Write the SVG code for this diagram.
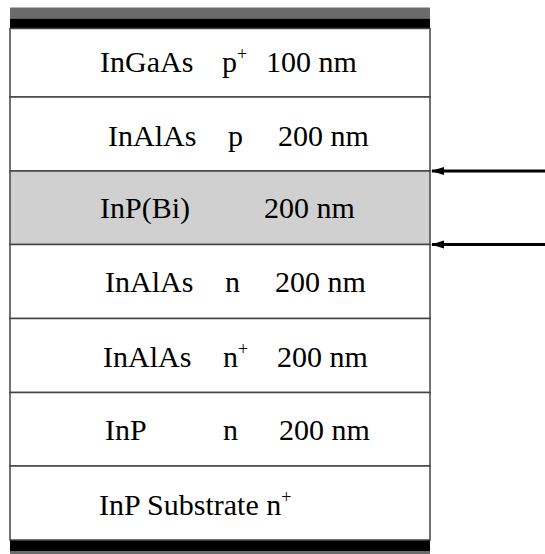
<svg xmlns="http://www.w3.org/2000/svg" width="545" height="554" viewBox="0 0 545 554">
<defs>
<style>
text{font-family:'Liberation Serif','Times New Roman','DejaVu Serif',serif;font-size:30px;fill:#000}
.s{font-size:18px}
.layer{stroke:#444;stroke-width:1.5}
</style>
<marker id="ah" markerWidth="13" markerHeight="10" refX="12" refY="5" orient="auto" markerUnits="userSpaceOnUse">
<path d="M0,1 L13,5 L0,9 Z" fill="#000"/>
</marker>
</defs>
<rect x="0" y="0" width="545" height="554" fill="#fff"/>
<rect x="10" y="7.5" width="420" height="11" fill="#6b6b6b"/>
<rect x="10" y="18.5" width="420" height="10" fill="#000"/>
<rect x="10" y="540" width="420" height="11" fill="#000"/>
<rect x="10" y="551" width="420" height="3" fill="#6b6b6b"/>
<g id="layer1"><rect class="layer" x="10" y="28.5" width="420" height="68.5" fill="#fff"/>
<text x="100" y="72">InGaAs</text><text x="222" y="72">p<tspan class="s" dy="-12">+</tspan></text><text x="266" y="72">100 nm</text></g>
<g id="layer2"><rect class="layer" x="10" y="97" width="420" height="74" fill="#fff"/>
<text x="108" y="146">InAlAs</text><text x="228" y="146">p</text><text x="278" y="146">200 nm</text></g>
<g id="layer3"><rect class="layer" x="10" y="171" width="420" height="73.5" fill="#d0d0d0"/>
<text x="100" y="218">InP(Bi)</text><text x="264" y="218">200 nm</text></g>
<g id="layer4"><rect class="layer" x="10" y="244.5" width="420" height="74" fill="#fff"/>
<text x="105" y="292">InAlAs</text><text x="225" y="292">n</text><text x="275" y="292">200 nm</text></g>
<g id="layer5"><rect class="layer" x="10" y="318.5" width="420" height="74" fill="#fff"/>
<text x="103" y="367">InAlAs</text><text x="223" y="367">n<tspan class="s" dy="-12">+</tspan></text><text x="277" y="367">200 nm</text></g>
<g id="layer6"><rect class="layer" x="10" y="392.5" width="420" height="73.5" fill="#fff"/>
<text x="105" y="440">InP</text><text x="223" y="440">n</text><text x="279" y="440">200 nm</text></g>
<g id="layer7"><rect class="layer" x="10" y="466" width="420" height="74" fill="#fff"/>
<text x="99" y="515">InP Substrate n<tspan class="s" dy="-12">+</tspan></text></g>
<g id="connectors" stroke="#000" stroke-width="3">
<line x1="545" y1="171" x2="432" y2="171" marker-end="url(#ah)"/>
<line x1="545" y1="244.5" x2="432" y2="244.5" marker-end="url(#ah)"/>
</g>
</svg>
